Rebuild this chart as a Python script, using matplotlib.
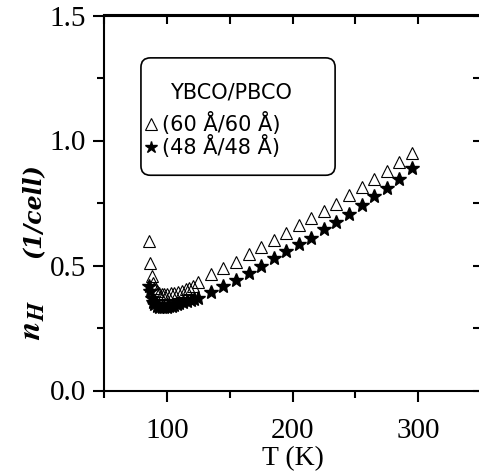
import matplotlib
matplotlib.use('Agg')
import matplotlib.pyplot as plt
from matplotlib.patches import FancyBboxPatch
from matplotlib.ticker import MultipleLocator

# YBCO/PBCO (60 A/60 A) superlattice
tri_T = [86, 87, 88, 89, 90, 92, 94, 96, 98, 100, 103, 106, 109, 112, 115,
         118, 121, 125, 135, 145, 155, 165, 175, 185, 195, 205, 215, 225,
         235, 245, 255, 265, 275, 285, 295]
tri_n = [0.60, 0.51, 0.46, 0.43, 0.41, 0.40, 0.39, 0.385, 0.385, 0.385, 0.39,
         0.39, 0.395, 0.40, 0.405, 0.41, 0.42, 0.435, 0.465, 0.49, 0.515,
         0.547, 0.575, 0.603, 0.631, 0.663, 0.692, 0.72, 0.748, 0.784, 0.816,
         0.848, 0.88, 0.913, 0.949]

# YBCO/PBCO (48 A/48 A) superlattice
star_T = [86, 87, 88, 89, 90, 92, 94, 96, 98, 100, 102, 104, 106, 108, 110,
          113, 116, 119, 122, 125, 135, 145, 155, 165, 175, 185, 195, 205,
          215, 225, 235, 245, 255, 265, 275, 285, 295]
star_n = [0.42, 0.40, 0.37, 0.355, 0.345, 0.338, 0.335, 0.333, 0.333, 0.335,
          0.337, 0.34, 0.343, 0.346, 0.35, 0.355, 0.36, 0.363, 0.367, 0.37,
          0.394, 0.418, 0.442, 0.47, 0.499, 0.531, 0.559, 0.587, 0.611, 0.647,
          0.675, 0.708, 0.744, 0.78, 0.812, 0.848, 0.89]

plt.rcParams['mathtext.fontset'] = 'stix'
serif = 'Liberation Serif'

W, H = 479, 476
fig = plt.figure(figsize=(W / 100, H / 100), dpi=100)
# axes box in pixels: left 104, top 15.5, bottom 390.5, right just off the edge
ax = fig.add_axes([104 / W, (H - 390.5) / H, 377 / W, 375 / H])

l1, = ax.plot(tri_T, tri_n, ls='none', marker='^', ms=9, mfc='none',
              mec='black', mew=0.8, label='(60 Å/60 Å)')
l2, = ax.plot(star_T, star_n, ls='none', marker='*', ms=10, color='black',
              label='(48 Å/48 Å)')

ax.set_xlim(50, 350)
ax.set_ylim(0, 1.5)
ax.xaxis.set_minor_locator(MultipleLocator(50))
ax.yaxis.set_minor_locator(MultipleLocator(0.25))
ax.set_yticks([0, 0.5, 1.0, 1.5])
ax.set_yticklabels(['0.0', '0.5', '1.0', '1.5'])
ax.set_xticks([100, 200, 300])

for s in ax.spines.values():
    s.set_linewidth(1.5)
ax.tick_params(which='major', direction='out', length=8, width=1.5,
               labelsize=21)
ax.tick_params(which='minor', direction='out', length=5, width=1.5)
ax.tick_params(axis='x', which='major', pad=12)
ax.tick_params(axis='y', which='major', pad=5)
for lab in ax.get_xticklabels() + ax.get_yticklabels():
    lab.set_fontfamily(serif)

top = ax.secondary_xaxis('top')
top.xaxis.set_major_locator(MultipleLocator(50))
top.tick_params(direction='in', length=6.5, width=1.5, labeltop=False)
top.spines['top'].set_linewidth(1.5)
right = ax.secondary_yaxis('right')
right.yaxis.set_major_locator(MultipleLocator(0.25))
right.tick_params(direction='in', length=6, width=1.5, labelright=False)
right.spines['right'].set_linewidth(1.5)

fig.text(293 / W, 1 - 459 / H, 'T (K)', fontsize=20, fontfamily=serif,
         ha='center', va='center')
fig.text(31 / W, 1 - 320 / H, r'$\mathbfit{n}_{\mathbfit{H}}$',
         rotation=90, ha='center', va='center', fontsize=24)
fig.text(33 / W, 1 - 211 / H, '(1/cell)', rotation=90, ha='center',
         va='center', fontsize=17, fontfamily='DejaVu Serif',
         fontweight='bold', fontstyle='italic')

frame = FancyBboxPatch((0.098, 0.574), 0.515, 0.313, transform=ax.transAxes,
                       boxstyle='round,pad=0,rounding_size=0.025',
                       fc='white', ec='black', lw=1.2, zorder=3)
ax.add_patch(frame)
ax.text(0.175, 0.78, 'YBCO/PBCO', transform=ax.transAxes, fontsize=15,
        fontfamily='DejaVu Sans', va='baseline', ha='left', zorder=5)
leg = ax.legend(handles=[l1, l2], loc='upper left',
                bbox_to_anchor=(0.108, 0.742), frameon=False,
                prop={'family': 'DejaVu Sans', 'size': 15},
                handlelength=0.6, handletextpad=0.25, labelspacing=0.0,
                borderpad=0, borderaxespad=0, markerscale=0.9)
leg.set_zorder(5)

fig.savefig('out.png', dpi=100)
